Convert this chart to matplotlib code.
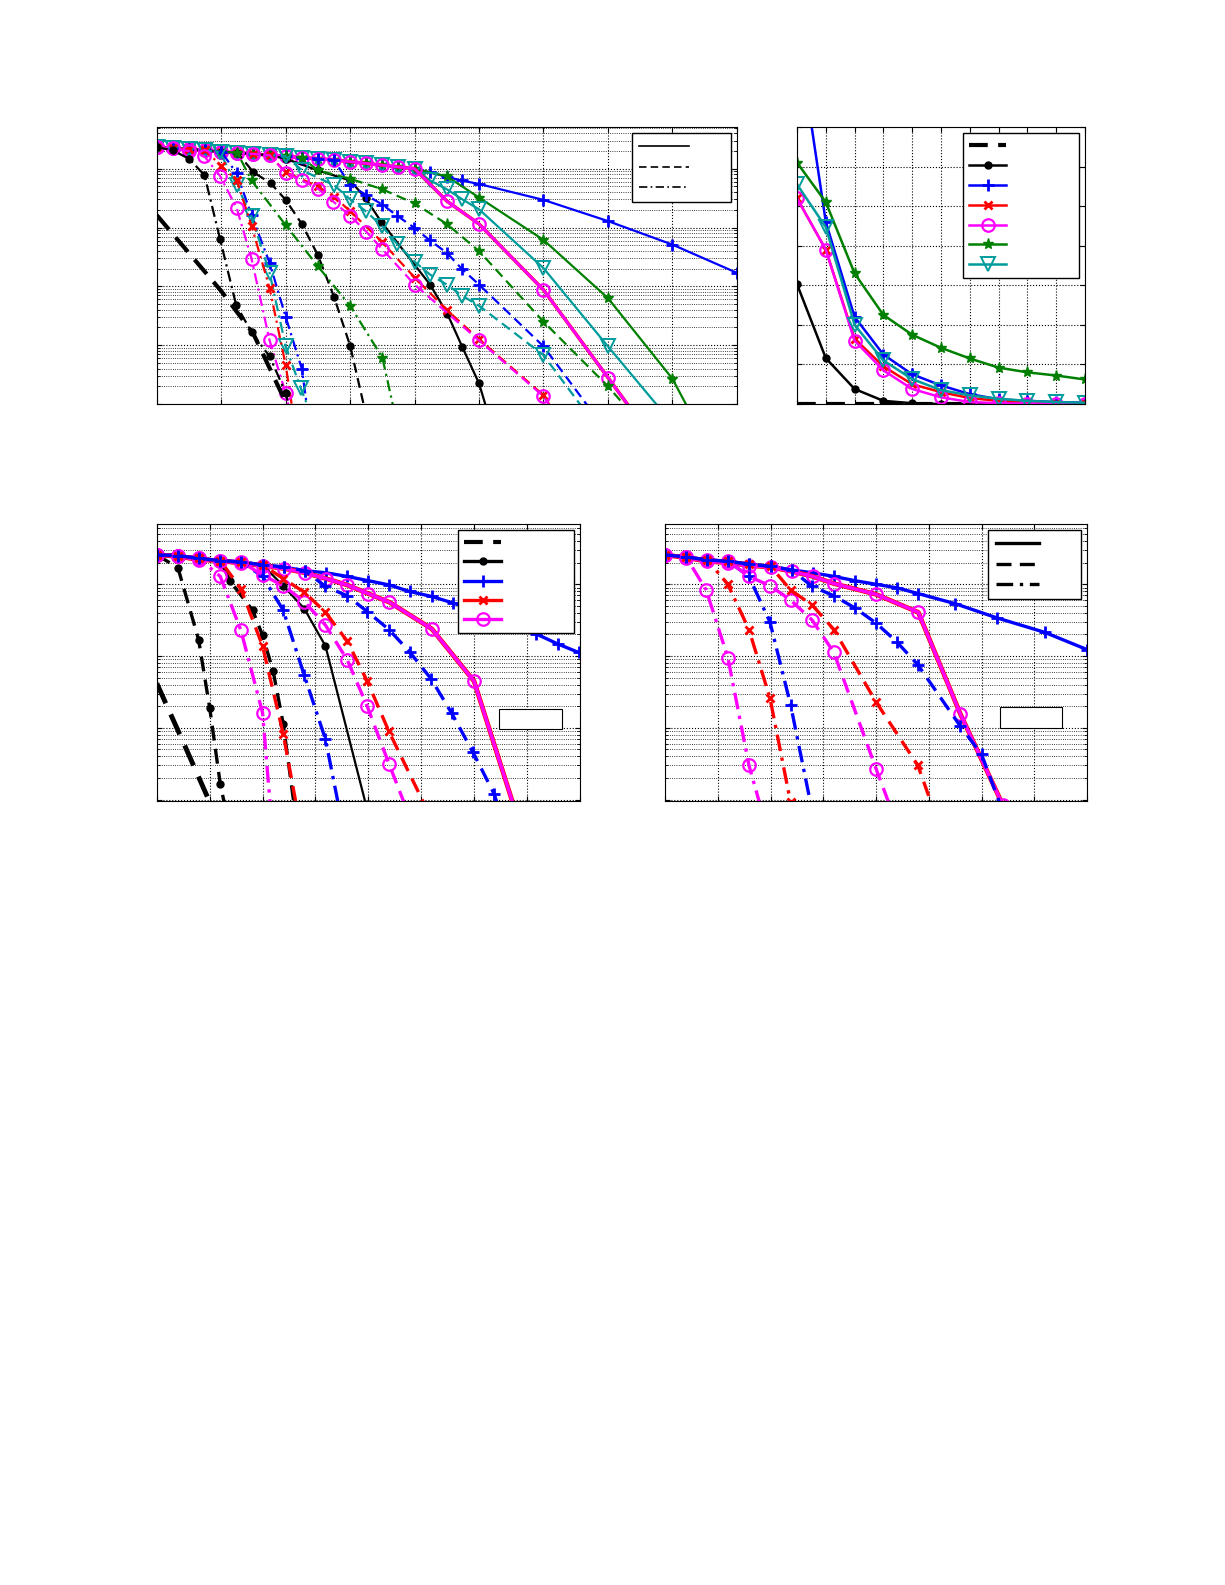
import numpy as np
import matplotlib
matplotlib.use("Agg")
import matplotlib.pyplot as plt
from matplotlib.patches import Rectangle
from matplotlib.lines import Line2D

plt.rcParams['lines.dashed_pattern'] = [4.5, 2.5]
plt.rcParams['lines.dashdot_pattern'] = [5, 2, 1, 2]

# ---------------- data (y values given as log10 exponents) ----------------
# Panel 1 common upper curve
p1_top_x = [0, 0.25, 0.5, 0.75, 1, 1.25, 1.5, 1.75, 2, 2.25, 2.5, 2.75, 3, 3.25, 3.5, 3.75, 4]
p1_top_e = [0.37, 0.35, 0.33, 0.31, 0.29, 0.27, 0.25, 0.23, 0.21, 0.19, 0.17, 0.15, 0.12, 0.09, 0.06, 0.03, 0.0]

p1_blue_solid_x = [4.24, 4.5, 4.73, 5, 6, 7, 8, 9]
p1_blue_solid_e = [-0.06, -0.14, -0.2, -0.26, -0.53, -0.89, -1.29, -1.77]
p1_green_solid_x = [4.5, 5, 6, 7, 8, 8.5]
p1_green_solid_e = [-0.13, -0.49, -1.21, -2.2, -3.57, -4.6]
p1_cyan_solid_x = [4.24, 4.5, 4.74, 5.0, 6.0, 7.0, 7.9]
p1_cyan_solid_e = [-0.2, -0.35, -0.52, -0.69, -1.69, -3.02, -4.2]
p1_mag_solid_x = [4.5, 5.0, 6.0, 7.0, 7.5]
p1_mag_solid_e = [-0.55, -0.94, -2.06, -3.55, -4.3]
p1_blk_solid_x = [2.0, 2.5, 3.0, 3.24, 3.48, 4.24, 4.51, 4.74, 5.0, 5.15]
p1_blk_solid_e = [0.17, -0.03, -0.2, -0.5, -0.9, -1.97, -2.47, -3.03, -3.65, -4.2]

p1_blue_dash_x = [3.0, 3.24, 3.5, 3.73, 3.99, 4.24, 4.5, 4.74, 5.0, 6.0, 6.8]
p1_blue_dash_e = [-0.28, -0.44, -0.61, -0.8, -1.0, -1.22, -1.43, -1.71, -1.97, -3.02, -4.2]
p1_green_dash_x = [2.5, 3, 3.5, 4, 4.5, 5, 6, 7, 7.4]
p1_green_dash_e = [-0.03, -0.17, -0.35, -0.59, -0.94, -1.4, -2.6, -3.7, -4.2]
p1_cyan_dash_x = [2.26, 2.75, 3.0, 3.24, 3.5, 3.73, 4.0, 4.24, 4.5, 4.74, 5.0, 6.0, 6.7]
p1_cyan_dash_e = [-0.03, -0.28, -0.52, -0.72, -0.98, -1.28, -1.58, -1.8, -1.97, -2.16, -2.33, -3.17, -4.2]
p1_mag_dash_x = [2.0, 2.25, 2.5, 2.74, 3.0, 3.25, 3.5, 4.0, 5.0, 6.0, 6.2]
p1_mag_dash_e = [-0.07, -0.2, -0.34, -0.56, -0.8, -1.07, -1.37, -1.97, -2.92, -3.87, -4.2]
p1_red_dash_x = [2.0, 2.5, 2.75, 3.0, 3.5, 4.0, 4.5, 5.0, 6.0, 6.2]
p1_red_dash_e = [-0.06, -0.3, -0.48, -0.72, -1.25, -1.85, -2.4, -2.9, -3.85, -4.2]
p1_blk_dash_x = [1.5, 1.77, 2.0, 2.25, 2.5, 2.75, 3.0, 3.25]
p1_blk_dash_e = [-0.06, -0.25, -0.53, -0.94, -1.47, -2.18, -3.01, -4.2]

p1_blk_dd_x = [0.25, 0.5, 0.74, 0.98, 1.23, 1.47, 1.75, 2.0, 2.1]
p1_blk_dd_e = [0.31, 0.17, -0.11, -1.19, -2.31, -2.78, -3.19, -3.81, -4.3]
p1_mag_dd_x = [0.5, 0.74, 0.98, 1.24, 1.47, 1.75, 2.0, 2.1]
p1_mag_dd_e = [0.3, 0.21, -0.12, -0.67, -1.53, -2.92, -3.82, -4.3]
p1_red_dd_x = [1.0, 1.24, 1.47, 1.75, 2.0, 2.12]
p1_red_dd_e = [0.05, -0.2, -0.97, -2.03, -3.34, -4.2]
p1_cyan_dd_x = [0.98, 1.24, 1.47, 1.75, 2.0, 2.23, 2.4]
p1_cyan_dd_e = [0.28, -0.28, -0.81, -1.77, -3.02, -3.72, -4.2]
p1_blue_dd_x = [1.24, 1.47, 1.75, 2.0, 2.25, 2.35]
p1_blue_dd_e = [-0.08, -0.79, -1.6, -2.52, -3.4, -4.2]
p1_green_dd_x = [1.47, 2.0, 2.5, 3.0, 3.5, 3.7]
p1_green_dd_e = [-0.2, -0.96, -1.66, -2.33, -3.21, -4.2]
p1_thick_x = [0, 1.0, 1.5, 2.1]
p1_thick_e = [-0.79, -2.08, -2.81, -4.2]

# Panel 2 (linear)
p2_x = list(range(11))
p2_black_dash = [0, 0, 0, 0, 0, 0, 0, 0, 0, 0, 0]
p2_black = [3.03, 1.16, 0.38, 0.08, 0.02, 0.0, 0.0, 0.0, 0.0, 0.0, 0.0]
p2_blue = [9.5, 4.6, 2.2, 1.25, 0.75, 0.47, 0.25, 0.12, 0.08, 0.05, 0.03]
p2_red = [5.2, 3.9, 1.65, 0.95, 0.5, 0.3, 0.15, 0.08, 0.05, 0.03, 0.02]
p2_magenta = [5.2, 3.9, 1.6, 0.85, 0.38, 0.17, 0.05, 0.02, 0.01, 0.01, 0.01]
p2_green = [6.1, 5.1, 3.3, 2.25, 1.75, 1.42, 1.15, 0.92, 0.8, 0.72, 0.62]
p2_cyan = [5.55, 4.47, 2.0, 1.1, 0.63, 0.35, 0.22, 0.13, 0.08, 0.05, 0.03]

# Panel 3
p3_top_x = [0, 0.4, 0.8, 1.2, 1.6, 2, 2.4, 2.8, 3.2, 3.6, 4, 4.4]
p3_top_e = [0.41, 0.4, 0.36, 0.33, 0.31, 0.27, 0.24, 0.19, 0.16, 0.11, 0.05, -0.01]
p3_blue_solid_x = [4.78, 5.2, 5.6, 6.0, 6.4, 6.76, 7.17, 7.58, 7.98]
p3_blue_solid_e = [-0.1, -0.17, -0.26, -0.36, -0.47, -0.58, -0.69, -0.83, -0.95]
p3_rm_solid_x = [0, 0.4, 0.8, 1.2, 1.6, 2, 2.4, 2.8, 3.2, 3.6, 4, 4.4, 5.2, 6, 6.8]
p3_rm_solid_e = [0.41, 0.39, 0.34, 0.33, 0.29, 0.26, 0.22, 0.16, 0.08, -0.01, -0.13, -0.25, -0.62, -1.35, -3.2]
p3_blk_solid_x = [2.39, 2.79, 3.19, 4.0]
p3_blk_solid_e = [-0.02, -0.34, -0.86, -3.2]
p3_blk_dashA_x = [0.4, 0.79, 1.0, 1.2, 1.32]
p3_blk_dashA_e = [0.23, -0.77, -1.72, -2.78, -3.2]
p3_blk_dashB_x = [1.39, 1.81, 2.0, 2.2, 2.39, 2.62]
p3_blk_dashB_e = [0.04, -0.36, -0.71, -1.21, -1.94, -3.2]
p3_thick_x = [0, 0.5, 1.1]
p3_thick_e = [-1.38, -2.2, -3.2]
p3_mag_dd_x = [1.2, 1.59, 2.0, 2.16]
p3_mag_dd_e = [0.11, -0.64, -1.79, -3.2]
p3_red_dashA_x = [1.59, 2.0, 2.39, 2.67]
p3_red_dashA_e = [-0.06, -0.86, -2.08, -3.2]
p3_blue_dd_x = [2.0, 2.39, 2.79, 3.19, 3.47]
p3_blue_dd_e = [0.11, -0.36, -1.27, -2.16, -3.2]
p3_mag_dash_x = [2.0, 2.39, 2.79, 3.19, 3.6, 3.98, 4.39, 4.76]
p3_mag_dash_e = [0.13, -0.02, -0.24, -0.57, -1.05, -1.7, -2.5, -3.2]
p3_red_dashB_x = [2.39, 2.79, 3.19, 3.6, 3.98, 4.39, 5.15]
p3_red_dashB_e = [0.08, -0.11, -0.39, -0.79, -1.35, -2.05, -3.2]
p3_blue_dash_x = [3.19, 3.6, 3.98, 4.39, 4.78, 5.19, 5.58, 5.98, 6.38, 6.5]
p3_blue_dash_e = [-0.03, -0.16, -0.38, -0.63, -0.94, -1.32, -1.8, -2.34, -2.92, -3.2]

# Panel 4
p4_top_x = [0, 0.4, 0.8, 1.2, 1.6, 2, 2.4, 2.8, 3.2, 3.6, 4, 4.4]
p4_top_e = [0.41, 0.38, 0.34, 0.32, 0.28, 0.25, 0.2, 0.16, 0.11, 0.05, 0.0, -0.05]
p4_blue_solid_x = [4.8, 5.5, 6.3, 7.2, 8]
p4_blue_solid_e = [-0.13, -0.27, -0.47, -0.67, -0.91]
p4_rm_solid_x = [0, 0.4, 0.8, 1.2, 1.6, 2, 2.4, 2.8, 3.2, 4, 4.8, 5.6, 6.4]
p4_rm_solid_e = [0.41, 0.37, 0.32, 0.3, 0.26, 0.24, 0.18, 0.11, 0.01, -0.14, -0.39, -1.81, -3.07]
p4_mag_dd_x = [0.78, 1.19, 1.59, 1.85]
p4_mag_dd_e = [-0.08, -1.02, -2.52, -3.2]
p4_red_dd_x = [1.19, 1.59, 1.99, 2.38]
p4_red_dd_e = [0.0, -0.63, -1.59, -3.04]
p4_blue_dd_x = [1.59, 1.99, 2.38, 2.8]
p4_blue_dd_e = [0.11, -0.53, -1.68, -3.2]
p4_mag_dash_x = [1.59, 1.99, 2.38, 2.79, 3.2, 4.0, 4.32]
p4_mag_dash_e = [0.11, -0.02, -0.22, -0.5, -0.95, -2.57, -3.2]
p4_red_dash_x = [2.38, 2.79, 3.2, 4.0, 4.79, 5.12]
p4_red_dash_e = [-0.08, -0.29, -0.63, -1.64, -2.52, -3.2]
p4_blue_dash_x = [2.79, 3.2, 3.6, 4.0, 4.39, 4.79, 5.6, 6.0, 6.42]
p4_blue_dash_e = [-0.03, -0.16, -0.33, -0.54, -0.8, -1.12, -1.98, -2.37, -3.2]

# ---------------- styling ----------------
BLUE, RED, MAG, GREEN, CYAN, BLK = '#0000ff', '#ff0000', '#ff00ff', '#008000', '#009c9c', '#000000'
MK = {BLK: dict(marker='o', ms=5, mfc=BLK),
      BLUE: dict(marker='+', ms=9, mew=2),
      RED: dict(marker='x', ms=6, mew=2),
      MAG: dict(marker='o', ms=9, mfc='none', mew=1.6),
      GREEN: dict(marker='*', ms=8),
      CYAN: dict(marker='v', ms=10, mfc='none', mew=1.4)}


def prefix(tx, te, x, e):
    xs = [a for a in tx if a < x[0] - 0.1]
    es = [b for a, b in zip(tx, te) if a < x[0] - 0.1]
    return np.array(xs + list(x)), 10.0 ** np.array(es + list(e))


def curve(ax, tx, te, x, e, c, ls, lw=1.6, top=True, marker=True):
    if top:
        xx, yy = prefix(tx, te, x, e)
    else:
        xx, yy = np.array(x), 10.0 ** np.array(e)
    kw = MK[c] if marker else {}
    ax.plot(xx, yy, color=c, ls=ls, lw=lw, **kw)


def style(ax):
    ax.tick_params(which='both', direction='in', labelleft=False, labelbottom=False,
                   top=True, right=True)
    for s in ax.spines.values():
        s.set_linewidth(0.8)


fig = plt.figure(figsize=(12.25, 15.85), dpi=100)

# ---- Panel 1 ----
ax1 = fig.add_axes([0.128, 0.7451, 0.4735, 0.1748])
ax1.set_yscale('log')
T = (p1_top_x, p1_top_e)
curve(ax1, *T, p1_blue_solid_x, p1_blue_solid_e, BLUE, '-')
curve(ax1, *T, p1_green_solid_x, p1_green_solid_e, GREEN, '-')
curve(ax1, *T, p1_cyan_solid_x, p1_cyan_solid_e, CYAN, '-')
curve(ax1, *T, p1_mag_solid_x, p1_mag_solid_e, RED, '-', lw=2.5, marker=False)
curve(ax1, *T, p1_mag_solid_x, p1_mag_solid_e, MAG, '-', lw=2)
curve(ax1, *T, p1_blk_solid_x, p1_blk_solid_e, BLK, '-')
curve(ax1, *T, p1_blue_dash_x, p1_blue_dash_e, BLUE, '--')
curve(ax1, *T, p1_green_dash_x, p1_green_dash_e, GREEN, '--')
curve(ax1, *T, p1_cyan_dash_x, p1_cyan_dash_e, CYAN, '--')
curve(ax1, *T, p1_red_dash_x, p1_red_dash_e, RED, '--')
curve(ax1, *T, p1_mag_dash_x, p1_mag_dash_e, MAG, '--')
curve(ax1, *T, p1_blk_dash_x, p1_blk_dash_e, BLK, '--')
curve(ax1, *T, p1_green_dd_x, p1_green_dd_e, GREEN, '-.')
curve(ax1, *T, p1_blue_dd_x, p1_blue_dd_e, BLUE, '-.')
curve(ax1, *T, p1_cyan_dd_x, p1_cyan_dd_e, CYAN, '-.')
curve(ax1, *T, p1_red_dd_x, p1_red_dd_e, RED, '-.')
curve(ax1, *T, p1_mag_dd_x, p1_mag_dd_e, MAG, '-.')
curve(ax1, *T, p1_blk_dd_x, p1_blk_dd_e, BLK, '-.')
curve(ax1, *T, p1_thick_x, p1_thick_e, BLK, '--', lw=3, top=False, marker=False)
ax1.set_xlim(0, 9)
ax1.set_ylim(1e-4, 10 ** 0.71)
ax1.set_xticks(range(10))
ax1.grid(True, which='major', ls=':', color='k', lw=0.8)
ax1.grid(True, which='minor', axis='y', ls=':', color='k', lw=0.6)
style(ax1)
h1 = [Line2D([], [], color='k', ls=s, lw=1.2) for s in ['-', '--', '-.']]
ax1.legend(h1, ['      '] * 3, loc='upper right', fancybox=False, edgecolor='k',
           framealpha=1, handlelength=4, fontsize=9, borderpad=0.6, labelspacing=0.6)

# ---- Panel 2 ----
ax2 = fig.add_axes([0.6506, 0.7451, 0.2351, 0.1748])
ax2.plot(p2_x, p2_black_dash, color=BLK, ls='--', lw=3)
ax2.plot(p2_x, p2_black, color=BLK, lw=1.8, **MK[BLK])
ax2.plot(p2_x, p2_blue, color=BLUE, lw=1.8, **MK[BLUE])
ax2.plot(p2_x, p2_red, color=RED, lw=1.8, **MK[RED])
ax2.plot(p2_x, p2_magenta, color=MAG, lw=1.8, **MK[MAG])
ax2.plot(p2_x, p2_green, color=GREEN, lw=1.8, **MK[GREEN])
ax2.plot(p2_x, p2_cyan, color=CYAN, lw=1.8, **MK[CYAN])
ax2.set_xlim(0, 10)
ax2.set_ylim(0, 7)
ax2.set_xticks(range(11))
ax2.set_yticks(range(8))
ax2.grid(True, ls=':', color='k', lw=0.8)
style(ax2)
h2 = [Line2D([], [], color=BLK, ls='--', lw=3)]
h2 += [Line2D([], [], color=c, lw=1.8, **MK[c]) for c in [BLK, BLUE, RED, MAG, GREEN, CYAN]]
ax2.legend(h2, ['              '] * 7, loc='upper right', fancybox=False, edgecolor='k',
           framealpha=1, handlelength=3, fontsize=9, borderpad=0.5, labelspacing=0.55)

# ---- Panel 3 ----
ax3 = fig.add_axes([0.128, 0.4946, 0.3453, 0.1748])
ax3.set_yscale('log')
T3 = (p3_top_x, p3_top_e)
LW = 2.4
curve(ax3, *T3, p3_blue_solid_x, p3_blue_solid_e, BLUE, '-', lw=LW)
curve(ax3, *T3, p3_rm_solid_x, p3_rm_solid_e, RED, '-', lw=LW + 1, top=False, marker=False)
curve(ax3, *T3, p3_rm_solid_x, p3_rm_solid_e, MAG, '-', lw=LW, top=False)
curve(ax3, *T3, p3_blk_solid_x, p3_blk_solid_e, BLK, '-', lw=1.6)
curve(ax3, *T3, p3_blk_dashA_x, p3_blk_dashA_e, BLK, '--', lw=LW)
curve(ax3, *T3, p3_blk_dashB_x, p3_blk_dashB_e, BLK, '--', lw=LW)
curve(ax3, *T3, p3_thick_x, p3_thick_e, BLK, '--', lw=3.5, top=False, marker=False)
curve(ax3, *T3, p3_mag_dd_x, p3_mag_dd_e, MAG, '-.', lw=LW)
curve(ax3, *T3, p3_red_dashA_x, p3_red_dashA_e, RED, '--', lw=LW)
curve(ax3, *T3, p3_blue_dd_x, p3_blue_dd_e, BLUE, '-.', lw=LW)
curve(ax3, *T3, p3_mag_dash_x, p3_mag_dash_e, MAG, '--', lw=LW)
curve(ax3, *T3, p3_red_dashB_x, p3_red_dashB_e, RED, '--', lw=LW)
curve(ax3, *T3, p3_blue_dash_x, p3_blue_dash_e, BLUE, '--', lw=LW)
ax3.set_xlim(0, 8)
ax3.set_ylim(10 ** -3.02, 10 ** 0.84)
ax3.set_xticks(range(9))
ax3.grid(True, which='major', ls=':', color='k', lw=0.8)
ax3.grid(True, which='minor', axis='y', ls=':', color='k', lw=0.6)
style(ax3)
h3 = [Line2D([], [], color=BLK, ls='--', lw=3)]
h3 += [Line2D([], [], color=c, lw=LW, **MK[c]) for c in [BLK, BLUE, RED, MAG]]
ax3.legend(h3, ['              '] * 5, loc='upper right', fancybox=False, edgecolor='k',
           framealpha=1, handlelength=3, fontsize=9, borderpad=0.5, labelspacing=0.5)
ax3.add_patch(Rectangle((0.808, 0.26), 0.149, 0.071, transform=ax3.transAxes,
                        facecolor='white', edgecolor='k', lw=0.8, zorder=5))

# ---- Panel 4 ----
ax4 = fig.add_axes([0.5429, 0.4946, 0.3445, 0.1748])
ax4.set_yscale('log')
T4 = (p4_top_x, p4_top_e)
curve(ax4, *T4, p4_blue_solid_x, p4_blue_solid_e, BLUE, '-', lw=LW)
curve(ax4, *T4, p4_rm_solid_x, p4_rm_solid_e, RED, '-', lw=LW + 1, top=False, marker=False)
curve(ax4, *T4, p4_rm_solid_x, p4_rm_solid_e, MAG, '-', lw=LW, top=False)
curve(ax4, *T4, p4_mag_dd_x, p4_mag_dd_e, MAG, '-.', lw=LW)
curve(ax4, *T4, p4_red_dd_x, p4_red_dd_e, RED, '-.', lw=LW)
curve(ax4, *T4, p4_blue_dd_x, p4_blue_dd_e, BLUE, '-.', lw=LW)
curve(ax4, *T4, p4_mag_dash_x, p4_mag_dash_e, MAG, '--', lw=LW)
curve(ax4, *T4, p4_red_dash_x, p4_red_dash_e, RED, '--', lw=LW)
curve(ax4, *T4, p4_blue_dash_x, p4_blue_dash_e, BLUE, '--', lw=LW)
ax4.set_xlim(0, 8)
ax4.set_ylim(10 ** -3.02, 10 ** 0.84)
ax4.set_xticks(range(9))
ax4.grid(True, which='major', ls=':', color='k', lw=0.8)
ax4.grid(True, which='minor', axis='y', ls=':', color='k', lw=0.6)
style(ax4)
h4 = [Line2D([], [], color='k', ls=s, lw=2.4) for s in ['-', '--', '-.']]
ax4.legend(h4, ['      '] * 3, loc='upper right', fancybox=False, edgecolor='k',
           framealpha=1, handlelength=3.5, fontsize=9, borderpad=0.6, labelspacing=0.6)
ax4.add_patch(Rectangle((0.794, 0.264), 0.147, 0.074, transform=ax4.transAxes,
                        facecolor='white', edgecolor='k', lw=0.8, zorder=5))

fig.savefig('out.png', dpi=100)
